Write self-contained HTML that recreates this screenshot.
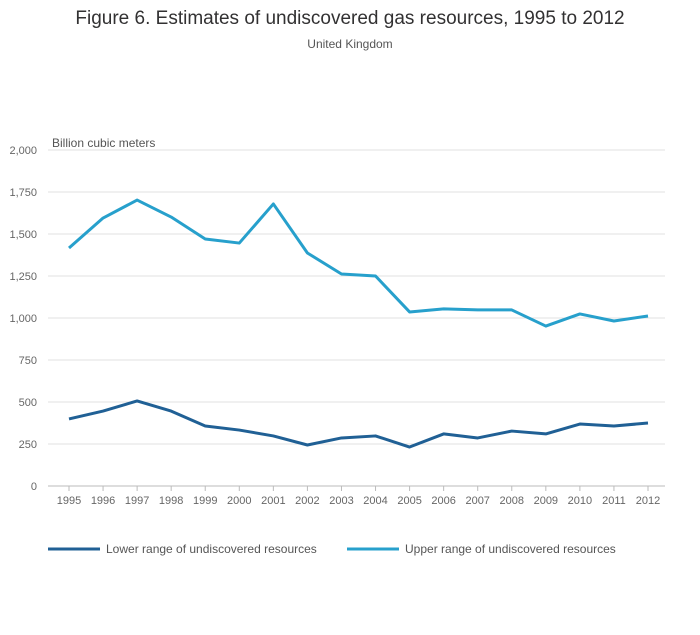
<!DOCTYPE html>
<html><head><meta charset="utf-8">
<style>
body{margin:0;background:#fff;font-family:"Liberation Sans",sans-serif;}
#wrap{position:relative;width:700px;height:635px;overflow:hidden}
</style></head>
<body>
<div id="wrap">
<svg id="chart" width="700" height="635">
<text x="350" y="24" text-anchor="middle" font-size="19" fill="#323132">Figure 6. Estimates of undiscovered gas resources, 1995 to 2012</text>
<text x="350" y="48" text-anchor="middle" font-size="12" fill="#555">United Kingdom</text>
<text x="52" y="147" font-size="12" fill="#555">Billion cubic meters</text>
<g id="grid"></g><g id="xt"></g><g id="lines"></g>
<g>
<line x1="48" y1="549" x2="100" y2="549" stroke="#206095" stroke-width="3"/>
<text x="106" y="553" font-size="12" fill="#555">Lower range of undiscovered resources</text>
<line x1="347" y1="549" x2="399" y2="549" stroke="#27a0cc" stroke-width="3"/>
<text x="405" y="553" font-size="12" fill="#555">Upper range of undiscovered resources</text>
</g>
</svg>
</div>
<script>
const years=[1995,1996,1997,1998,1999,2000,2001,2002,2003,2004,2005,2006,2007,2008,2009,2010,2011,2012];
const lower=[399,446,506,446,357,333,298,244,286,298,232,310,286,327,310,369,357,375];
const upper=[1417,1595,1702,1601,1470,1446,1679,1387,1262,1250,1036,1054,1048,1048,952,1024,982,1012];
const yTicks=[0,250,500,750,1000,1250,1500,1750,2000];
const yLabels=["0","250","500","750","1,000","1,250","1,500","1,750","2,000"];
const NS="http://www.w3.org/2000/svg";
function y(v){return 486-v*(336/2000);}
function x(i){return 69+i*(579/(years.length-1));}
const grid=document.getElementById('grid');
yTicks.forEach((t,i)=>{
  const l=document.createElementNS(NS,'line');
  l.setAttribute('x1',48);l.setAttribute('x2',665);l.setAttribute('y1',y(t));l.setAttribute('y2',y(t));
  l.setAttribute('stroke',t===0?'#bbb':'#e2e2e2');
  
  
  grid.appendChild(l);
  const tx=document.createElementNS(NS,'text');
  tx.setAttribute('x',37);tx.setAttribute('y',y(t)+4);tx.setAttribute('text-anchor','end');
  tx.setAttribute('font-size','11');tx.setAttribute('fill','#666');tx.textContent=yLabels[i];
  
  
  grid.appendChild(tx);
});
const xt=document.getElementById('xt');
years.forEach((yr,i)=>{
  const l=document.createElementNS(NS,'line');
  l.setAttribute('x1',x(i));l.setAttribute('x2',x(i));l.setAttribute('y1',486);l.setAttribute('y2',491);
  l.setAttribute('stroke','#bbb');
  
  
  xt.appendChild(l);
  const tx=document.createElementNS(NS,'text');
  tx.setAttribute('x',x(i));tx.setAttribute('y',504);tx.setAttribute('text-anchor','middle');
  tx.setAttribute('font-size','11');tx.setAttribute('fill','#666');tx.textContent=yr;
  
  
  xt.appendChild(tx);
});
const lines=document.getElementById('lines');
function draw(arr,color,name){
  const p=document.createElementNS(NS,'polyline');
  p.setAttribute('points',arr.map((v,i)=>x(i)+','+y(v)).join(' '));
  p.setAttribute('fill','none');p.setAttribute('stroke',color);p.setAttribute('stroke-width','3');
  p.setAttribute('stroke-linejoin','round');
  
  
  lines.appendChild(p);
}
draw(upper,'#27a0cc','upper-range-line');
draw(lower,'#206095','lower-range-line');
</script>
</body></html>
